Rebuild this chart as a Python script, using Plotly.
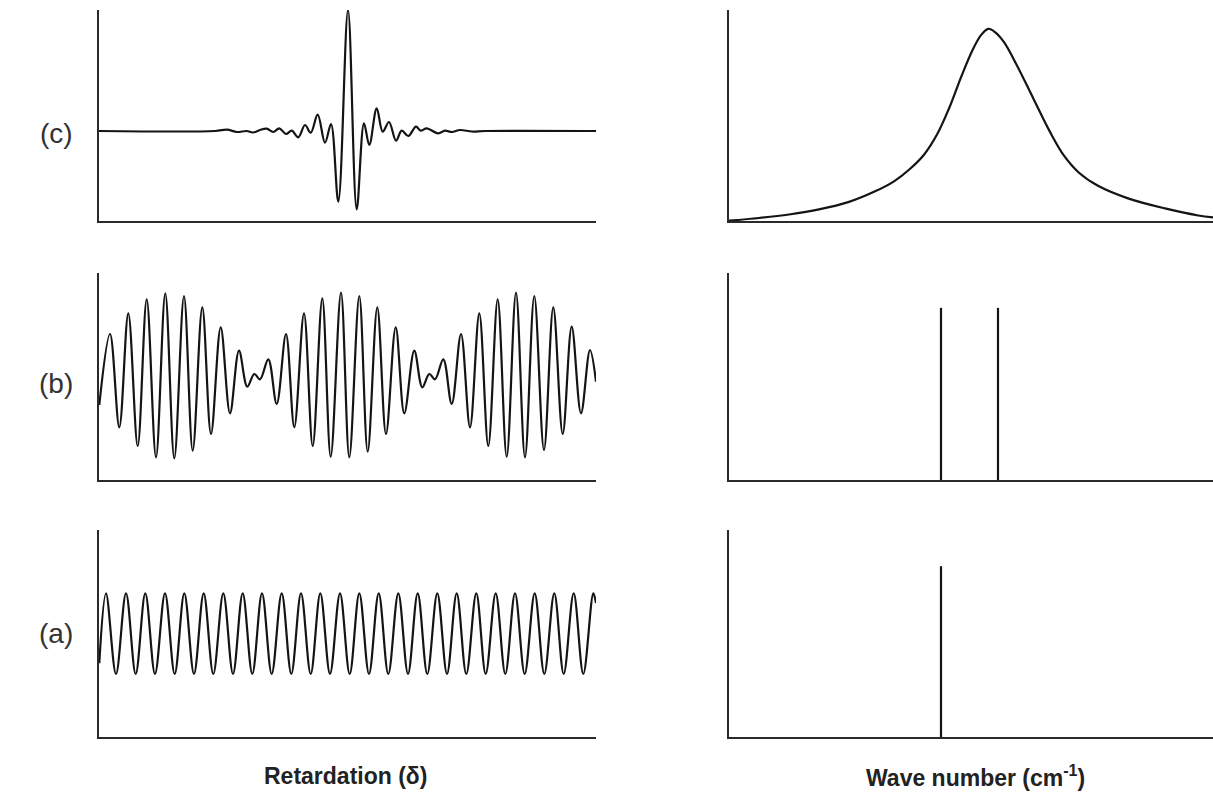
import plotly.graph_objects as go
from plotly.subplots import make_subplots

# ---------------- Data ----------------
# Panel (c) left: interferogram of a broad band (retardation, intensity)
c_delta = [0, 116, 128, 138, 147.7, 154, 161, 167.7, 174.3, 180.3, 187, 192.7, 199.3, 206,
           211.7, 218.7, 226, 232, 239.3, 249, 257.7, 265, 270.3, 277.7, 283.7, 290, 297,
           302.7, 309.3, 317, 321.7, 327.7, 339, 346, 353, 361, 373, 386, 497]
c_signal = [0, 0, 1.3, -1, 0, -1.5, 1, 2.3, -1, 2.7, -3, 0.3, -6.3, 6,
            -1.7, 16.3, -11.7, 7, -70.7, 121, -78.3, 7.7, -14, 22.7, -0.7, 9, -9.7,
            0.3, -5, 4.3, 0.3, 2.7, -2.3, 0.3, -1, 1, -0.5, 0, 0]

# Panel (b) left: beat pattern of two lines
b_delta = [0.3, 11, 20.3, 29.3, 38.7, 47.7, 57, 66.3, 75.3, 85, 93.7, 103.3, 112, 121.7,
           131, 140, 148.3, 155.3, 161, 169.3, 177.7, 187, 195.3, 205, 213.7, 223.3,
           231.7, 242, 250.3, 260.3, 268.7, 278.3, 287, 296.7, 305.3, 315.3, 323.3,
           330.3, 336, 344.3, 352.7, 362, 371, 380.3, 389.3, 398.7, 407.7, 417, 426,
           435.3, 445, 454.3, 463.7, 472.7, 482, 491, 497]
b_signal = [-29.5, 41.5, -51.8, 62.2, -70.5, 76.2, -81.8, 82.2, -82.8, 79.5, -75.2, 68.2,
            -58.5, 48.2, -37.8, 24.8, -11.2, 1.5, -3.8, 16.2, -28.5, 41.5, -51.8, 62.2,
            -70.5, 77.2, -81.2, 82.8, -81.8, 79.5, -76.2, 68.2, -58.5, 48.2, -37.8, 24.8,
            -11.8, 1.5, -3.8, 16.2, -28.5, 41.5, -51.8, 62.2, -70.5, 76.2, -81.2, 82.8,
            -81.8, 79.5, -74.5, 68.2, -58.5, 48.8, -37.8, 25.5, -6.2]

# Panel (a) left: single cosine
a_delta = [0.3, 7, 17, 27, 36.7, 46.3, 56, 66, 75.7, 85.3, 95, 104.7, 114.3, 124.3, 134,
           143.7, 153.3, 163, 172.7, 182.7, 192.3, 202, 211.7, 221.3, 231, 241, 250.7,
           260.3, 270, 279.7, 289.3, 299.3, 309, 318.7, 328.3, 338.3, 348, 357.7, 367.3,
           377.3, 386.7, 396.7, 406.3, 416, 425.7, 435.7, 445.3, 455.3, 464.7, 474.7,
           484.3, 494.3, 497]
a_signal = [-29.6, 40.3, -40.3, 40.3, -40.3, 40.3, -40.3, 40.3, -40.3, 40.3, -40.3, 40.3,
            -40.3, 40.3, -40.3, 40.3, -40.3, 40.3, -40.3, 40.3, -40.3, 40.3, -40.3, 40.3,
            -40.3, 40.3, -40.3, 40.3, -40.3, 40.3, -40.3, 40.3, -40.3, 40.3, -40.3, 40.3,
            -40.3, 40.3, -40.3, 40.3, -40.3, 40.3, -40.3, 40.3, -40.3, 40.3, -40.3, 40.3,
            -40.3, 40.3, -40.3, 40.3, 30.7]

# Panel (c) right: broad band spectrum
c_wn = [0, 30, 60, 90, 120, 145, 165, 180, 195, 208, 220, 232, 243, 252, 259.3, 266,
        275, 287.7, 304.3, 321, 335, 350, 369, 399, 436, 469.3, 484]
c_spec = [0.3, 3, 6.5, 11.5, 19, 29, 39.5, 51, 66, 86, 112, 143, 169, 185, 191.3, 188,
          178, 155.3, 122, 88.7, 65, 48, 35, 22.5, 12.5, 5.5, 3.5]

# Panel (b) right: two lines
b_lines_wn = [212, 269]
b_lines_h = [173, 173]

# Panel (a) right: one line
a_lines_wn = [212]
a_lines_h = [170]

row_labels = ["(c)", "(b)", "(a)"]
x_titles = ["Retardation (\u03b4)", "Wave number (cm<sup>-1</sup>)"]

# ---------------- Figure ----------------
W, H = 1213, 800
fig = make_subplots(rows=3, cols=2)

line_style = dict(color="#141414", width=2.2)


def spikes(xs, hs):
    xx, yy = [], []
    for x, h in zip(xs, hs):
        xx += [x, x, None]
        yy += [0, h, None]
    return xx, yy


fig.add_trace(go.Scatter(x=c_delta, y=c_signal, mode="lines",
                         line=dict(shape="spline", smoothing=1, **line_style)), row=1, col=1)
fig.add_trace(go.Scatter(x=b_delta, y=b_signal, mode="lines",
                         line=dict(shape="spline", smoothing=1, **line_style)), row=2, col=1)
fig.add_trace(go.Scatter(x=a_delta, y=a_signal, mode="lines",
                         line=dict(shape="spline", smoothing=1, **line_style)), row=3, col=1)
fig.add_trace(go.Scatter(x=c_wn, y=c_spec, mode="lines",
                         line=dict(shape="spline", smoothing=1, **line_style)), row=1, col=2)
bx, by = spikes(b_lines_wn, b_lines_h)
fig.add_trace(go.Scatter(x=bx, y=by, mode="lines", line=line_style), row=2, col=2)
ax_, ay_ = spikes(a_lines_wn, a_lines_h)
fig.add_trace(go.Scatter(x=ax_, y=ay_, mode="lines", line=line_style), row=3, col=2)

# layout geometry (pixels -> paper)
left_dom = [99 / W, 596 / W]
right_dom = [729 / W, 1.0]
rows_px = [(10, 221), (273, 480), (530, 737)]
label_y_px = [133, 383, 633]
y_ranges_left = [[-90, 121], [-104.5, 102.5], [-103.3, 103.7]]
y_ranges_right = [[0, 210], [0, 208], [0, 206]]

axis_common = dict(showgrid=False, zeroline=False, showticklabels=False, ticks="",
                   showline=True, linecolor="#2a2a2a", linewidth=2)

for r in range(3):
    top, bot = rows_px[r]
    ydom = [1 - bot / H, 1 - top / H]
    fig.update_xaxes(domain=left_dom, range=[0, 497], row=r + 1, col=1, **axis_common)
    fig.update_xaxes(domain=right_dom, range=[0, 484], row=r + 1, col=2, **axis_common)
    fig.update_yaxes(domain=ydom, range=y_ranges_left[r], row=r + 1, col=1, **axis_common)
    fig.update_yaxes(domain=ydom, range=y_ranges_right[r], row=r + 1, col=2, **axis_common)

annotations = []
for r, lab in enumerate(row_labels):
    annotations.append(dict(text=lab, x=56 / W, y=1 - label_y_px[r] / H,
                            xref="paper", yref="paper", showarrow=False,
                            xanchor="center", yanchor="middle",
                            font=dict(family="Liberation Sans, Arial", size=28, color="#333")))
annotations.append(dict(text="<b>" + x_titles[0] + "</b>", x=345 / W, y=1 - 776 / H,
                        xref="paper", yref="paper", showarrow=False,
                        xanchor="center", yanchor="middle",
                        font=dict(family="Liberation Sans, Arial", size=23, color="#222")))
annotations.append(dict(text="<b>" + x_titles[1] + "</b>", x=975 / W, y=1 - 776 / H,
                        xref="paper", yref="paper", showarrow=False,
                        xanchor="center", yanchor="middle",
                        font=dict(family="Liberation Sans, Arial", size=23, color="#222")))

fig.update_layout(width=W, height=H, margin=dict(l=0, r=0, t=0, b=0),
                  paper_bgcolor="white", plot_bgcolor="white", showlegend=False,
                  annotations=annotations)

fig.write_html("out.html")
